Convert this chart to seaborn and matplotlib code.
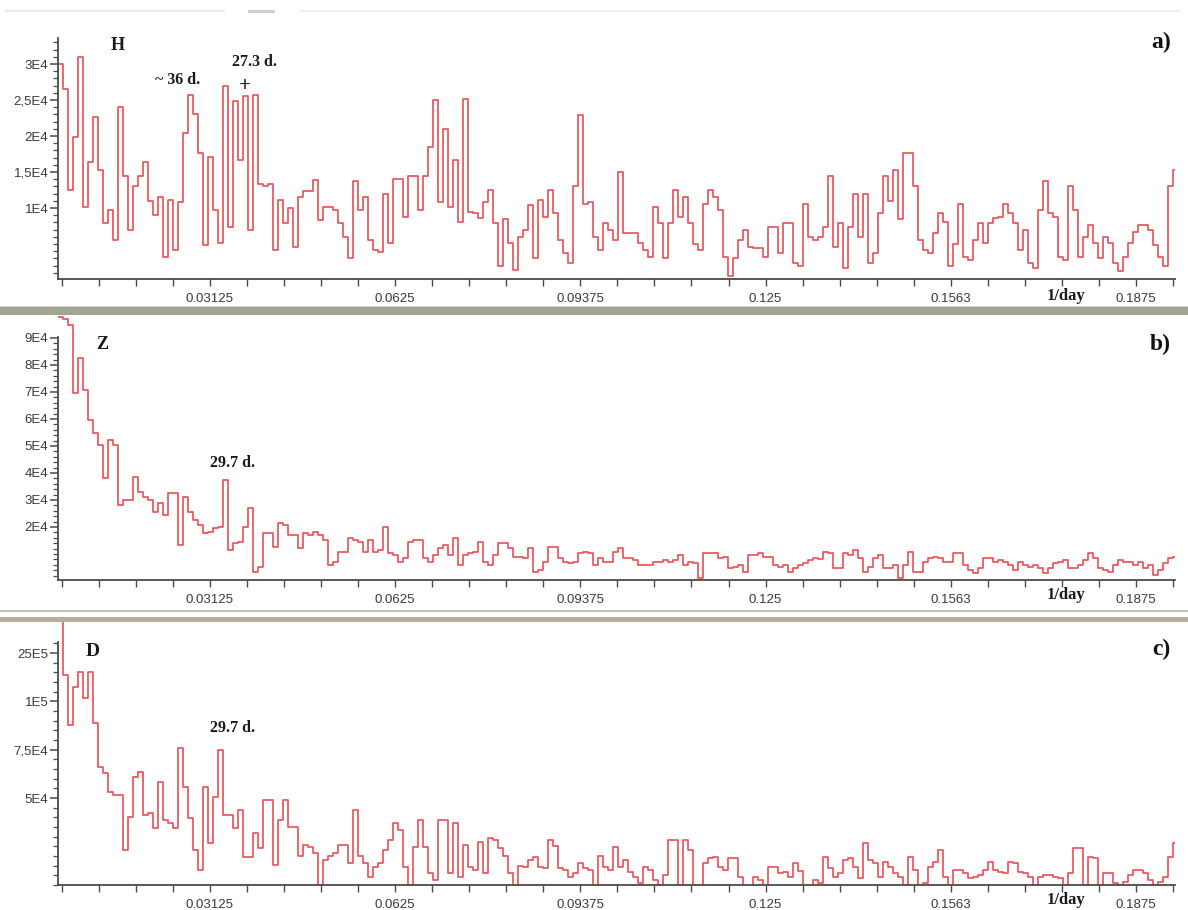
import numpy as np
import pandas as pd
import matplotlib
matplotlib.use("Agg")
import matplotlib.pyplot as plt
from matplotlib.patches import Rectangle
from matplotlib.ticker import FixedLocator
import matplotlib.transforms as mtransforms
import seaborn as sns

# ---------------- data ----------------
FREQ_START = 0.0056        # 1/day, first spectral bin
FREQ_STEP = 0.00084375     # 1/day, bin width

# spectral power, in units of 1E4
H_E4 = [3.0, 2.65, 1.25, 1.99, 3.1, 1.02, 1.64, 2.27, 1.53, 0.79,
        0.97, 0.56, 2.41, 1.44, 0.69, 1.30, 1.45, 1.64, 1.1, 0.9,
        1.16, 0.32, 1.11, 0.42, 1.09, 2.04, 2.57, 2.31, 1.76, 0.49,
        1.71, 0.97, 0.51, 2.69, 0.74, 2.48, 1.67, 2.55, 0.69, 2.57,
        1.34, 1.30, 1.34, 0.42, 1.11, 0.79, 1.00, 0.46, 1.16, 1.23,
        1.23, 1.39, 0.83, 1.02, 1.02, 0.97, 0.79, 0.6, 0.30, 1.37,
        0.97, 1.16, 0.56, 0.42, 0.39, 1.20, 0.51, 1.41,
        1.41, 0.88, 1.44, 1.44, 0.97, 1.44, 1.85, 2.5, 1.09, 2.1,
        1.02, 1.67, 0.81, 2.52, 0.95, 0.93, 0.86, 1.09, 1.25, 0.79,
        0.19, 0.85, 0.51, 0.14, 0.6, 0.69, 1.04, 0.30, 1.11, 0.88,
        1.25, 0.93, 0.56, 0.37, 0.23, 1.3, 2.29, 1.06, 1.09, 0.6,
        0.42, 0.79, 0.69, 0.56, 1.5, 0.65, 0.65, 0.65, 0.51, 0.42,
        0.32, 1.02, 0.79, 0.30, 0.79, 1.25, 0.88, 1.16, 0.79, 0.5,
        0.42, 1.06, 1.25, 1.16, 0.97, 0.32, 0.05, 0.3, 0.56, 0.69,
        0.46, 0.44, 0.44, 0.32, 0.74, 0.74, 0.37, 0.79,
        0.79, 0.23, 0.2, 1.06, 0.6, 0.56, 0.6, 0.74, 1.44, 0.46,
        0.79, 0.16, 0.74, 1.2, 0.6, 1.2, 0.23, 0.37, 0.93, 1.44,
        1.1, 1.53, 0.85, 1.76, 1.76, 1.3, 0.56, 0.42, 0.37, 0.65,
        0.93, 0.81, 0.19, 0.5, 1.06, 0.32, 0.28, 0.56, 0.79, 0.51,
        0.79, 0.86, 0.88, 1.06, 0.93, 0.79, 0.42, 0.69, 0.23, 0.16,
        0.97, 1.37, 0.93, 0.88, 0.32, 0.28, 1.3, 0.97, 0.32, 0.6,
        0.76, 0.51, 0.30, 0.6, 0.51, 0.23, 0.12, 0.32, 0.51, 0.67,
        0.76, 0.76, 0.69, 0.49, 0.32, 0.19, 1.3, 1.53]

Z_E4 = [9.79, 9.7, 9.48, 6.95, 8.25, 7.07, 5.96, 5.47, 5.04, 3.80,
        5.22, 5.04, 2.81, 3.0, 3.0, 3.86, 3.3, 3.12, 3.0, 2.57,
        2.88, 2.44, 3.25, 3.25, 1.33, 3.12, 2.57, 2.26, 2.07, 1.77,
        1.83, 1.95, 2.01, 3.74, 1.15, 1.40, 1.43, 2.01, 2.69, 0.35,
        0.5, 1.77, 1.77, 1.27, 2.14, 2.07, 1.70, 1.70, 1.21, 1.77,
        1.70, 1.83, 1.70, 1.52, 0.59, 0.72, 1.09, 1.09, 1.58, 1.52,
        1.46, 1.09, 1.52, 1.09, 1.15, 2.01, 1.02, 0.96,
        0.72, 0.84, 1.46, 1.52, 1.52, 0.84, 0.72, 0.96, 1.21, 1.33,
        0.96, 1.58, 0.59, 0.96, 1.02, 1.09, 1.43, 0.7, 0.59, 0.96,
        1.40, 1.40, 1.21, 0.90, 0.90, 0.84, 1.21, 0.35, 0.4, 0.72,
        1.27, 1.27, 0.84, 0.72, 0.65, 0.72, 1.02, 1.09, 1.02, 0.59,
        0.84, 0.72, 0.72, 1.09, 1.21, 0.84, 0.84, 0.78, 0.59, 0.59,
        0.59, 0.72, 0.72, 0.78, 0.72, 0.78, 0.96, 0.59, 0.72, 0.65,
        0.10, 1.02, 1.02, 1.02, 0.84, 0.90, 0.47, 0.53, 0.59, 0.35,
        0.96, 0.96, 1.02, 0.90, 0.90, 0.59, 0.53, 0.6,
        0.35, 0.47, 0.59, 0.65, 0.78, 0.84, 0.8, 1.09, 1.02, 0.47,
        0.47, 1.02, 0.96, 1.15, 0.84, 0.35, 0.5, 0.84, 0.96, 0.47,
        0.47, 0.59, 0.10, 0.6, 1.09, 0.35, 0.35, 0.72, 0.84, 0.90,
        0.84, 0.72, 0.72, 1.02, 1.02, 0.59, 0.41, 0.28, 0.47, 0.84,
        0.84, 0.72, 0.78, 0.72, 0.59, 0.41, 0.72, 0.59, 0.53, 0.59,
        0.47, 0.28, 0.47, 0.65, 0.72, 0.78, 0.47, 0.47, 0.59, 0.78,
        1.02, 0.84, 0.47, 0.41, 0.35, 0.59, 0.78, 0.72, 0.72, 0.59,
        0.72, 0.47, 0.59, 0.22, 0.41, 0.65, 0.84, 0.90]

D_E4 = [14.5, 11.37, 8.78, 10.76, 11.54, 10.16, 11.54, 8.86, 6.62, 6.28,
        5.33, 5.16, 5.16, 2.31, 4.03, 6.10, 6.36, 4.12, 4.21, 3.43,
        5.85, 3.86, 3.69, 3.43, 7.57, 5.59, 3.95, 2.31, 1.27, 5.59,
        2.65, 5.07, 7.48, 4.12, 4.12, 3.43, 4.38, 1.96, 1.96, 3.17,
        2.39, 4.90, 4.90, 1.53, 3.86, 4.90, 3.52, 3.52, 2.0, 2.57,
        2.48, 2.14, 0.50, 1.79, 2.0, 2.14, 2.57, 2.57, 1.62, 4.38,
        2.0, 1.62, 0.93, 1.45, 1.62, 2.3, 2.83, 3.69,
        3.34, 1.45, 0.50, 2.48, 3.86, 2.48, 1.10, 0.76, 3.86, 3.86,
        1.10, 3.69, 0.93, 2.57, 1.45, 1.27, 2.74, 1.10, 2.91, 2.83,
        2.39, 2.0, 1.10, 0.24, 1.5, 1.45, 1.79, 1.96, 1.45, 1.36,
        2.83, 2.5, 1.36, 1.27, 0.93, 1.10, 1.62, 1.36, 1.27, 0.41,
        2.0, 1.45, 1.27, 2.48, 1.45, 1.79, 1.19, 0.93, 0.58, 1.45,
        1.27, 0.76, 0.50, 1.0, 2.83, 2.83, 0.41, 2.83, 2.3, 0.50,
        0.41, 1.62, 1.88, 1.96, 1.45, 1.27, 1.88, 1.88, 0.93, 0.32,
        0.32, 0.93, 0.76, 0.41, 1.45, 1.45, 1.10, 1.19,
        0.93, 1.62, 1.2, 0.24, 0.15, 0.76, 0.58, 1.96, 1.36, 0.93,
        1.10, 1.79, 1.88, 1.45, 0.84, 2.65, 1.79, 1.62, 0.93, 1.70,
        1.45, 1.10, 0.93, 0.50, 1.96, 1.27, 0.41, 0.58, 1.45, 1.70,
        2.31, 0.93, 0.32, 1.27, 1.27, 1.10, 0.84, 0.93, 1.01, 1.27,
        1.70, 1.27, 1.19, 1.10, 1.70, 1.62, 1.19, 1.10, 0.93, 0.50,
        0.93, 1.01, 1.01, 0.93, 0.84, 0.50, 1.10, 2.39, 2.39, 0.41,
        1.96, 1.88, 0.32, 1.10, 1.10, 0.58, 0.50, 0.67, 1.01, 1.27,
        1.27, 1.10, 0.76, 0.50, 0.67, 0.93, 1.96, 2.65]

X_TICKS = [0.03125, 0.0625, 0.09375, 0.125, 0.15625, 0.1875]
X_TICK_LABELS = ["0.03125", "0.0625", "0.09375", "0.125", "0.1563", "0.1875"]
X_MINOR_STEP = 0.00625

H_YTICKS = [1e4, 1.5e4, 2e4, 2.5e4, 3e4]
H_YLABELS = ["1E4", "1,5E4", "2E4", "2,5E4", "3E4"]
Z_YTICKS = [2e4, 3e4, 4e4, 5e4, 6e4, 7e4, 8e4, 9e4]
Z_YLABELS = ["2E4", "3E4", "4E4", "5E4", "6E4", "7E4", "8E4", "9E4"]
D_YTICKS = [5e4, 7.5e4, 1e5, 1.25e5]
D_YLABELS = ["5E4", "7,5E4", "1E5", "25E5"]

# ---------------- style ----------------
sns.set_style("white")
plt.rcParams["font.family"] = ["Liberation Sans", "DejaVu Sans"]

LINE_COLOR = "#e8555b"
SPINE_COLOR = "#4a4a4a"
SERIF = ["Liberation Serif", "DejaVu Serif"]

W, Hpx = 1188, 910
fig = plt.figure(figsize=(W / 100, Hpx / 100), dpi=100)
fig.patch.set_facecolor("white")

XLIM = (0.005601, 0.19409)

panels = [
    dict(vals=H_E4, top=18, bottom=279, ylim=(0.014e4, 3.64e4), spine_top=3.36e4,
         yt=H_YTICKS, yl=H_YLABELS, minor=0.1e4, tag="a)", tag_y=0.908,
         comp=("H", 0.0157, 3.26e4, 13),
         notes=[("~ 36 d.", 0.02585, 2.78e4, 11.5), ("27.3 d.", 0.03884, 3.03e4, 11.5),
                ("+", 0.0372, 2.70e4, 15)],
         day_y=-0.065),
    dict(vals=Z_E4, top=315, bottom=580, ylim=(0.037e4, 9.85e4), spine_top=9.04e4,
         yt=Z_YTICKS, yl=Z_YLABELS, minor=0.2e4, tag="b)", tag_y=0.89,
         comp=("Z", 0.0130, 8.74e4, 13),
         notes=[("29.7 d.", 0.0350, 4.37e4, 11.5)],
         day_y=-0.057),
    dict(vals=D_E4, top=622, bottom=885, ylim=(0.497e4, 14.11e4), spine_top=13.07e4,
         yt=D_YTICKS, yl=D_YLABELS, minor=0.5e4, tag="c)", tag_y=0.894,
         comp=("D", 0.0115, 12.56e4, 14),
         notes=[("29.7 d.", 0.0350, 8.62e4, 11.5)],
         day_y=-0.057),
]

for p in panels:
    left, right = 58, 1175
    ax = fig.add_axes([left / W, 1 - p["bottom"] / Hpx, (right - left) / W,
                       (p["bottom"] - p["top"]) / Hpx])
    n = len(p["vals"])
    freq = FREQ_START + FREQ_STEP * np.arange(n + 1)
    power = np.array(p["vals"] + [p["vals"][-1]]) * 1e4
    df = pd.DataFrame({"freq": freq, "power": power})
    sns.lineplot(data=df, x="freq", y="power", ax=ax, estimator=None, sort=False,
                 drawstyle="steps-post", color=LINE_COLOR, linewidth=1.25)

    ax.set_xlim(*XLIM)
    ax.set_ylim(*p["ylim"])
    ax.set_xlabel("")
    ax.set_ylabel("")
    ax.set_facecolor("white")

    for s in ["top", "right"]:
        ax.spines[s].set_visible(False)
    for s in ["left", "bottom"]:
        ax.spines[s].set_color(SPINE_COLOR)
        ax.spines[s].set_linewidth(1.3)
    ax.spines["left"].set_bounds(p["ylim"][0], p["spine_top"])

    ax.xaxis.set_major_locator(FixedLocator(X_TICKS))
    ax.set_xticklabels(X_TICK_LABELS)
    ax.xaxis.set_minor_locator(FixedLocator(list(np.arange(1, 32) * X_MINOR_STEP)))
    ax.yaxis.set_major_locator(FixedLocator(p["yt"]))
    ax.set_yticklabels(p["yl"])
    ymin_minor = np.arange(1, 200) * p["minor"]
    ymin_minor = ymin_minor[(ymin_minor >= p["ylim"][0]) & (ymin_minor <= p["spine_top"])]
    ax.yaxis.set_minor_locator(FixedLocator(list(ymin_minor)))

    ax.tick_params(axis="x", which="both", direction="out", length=5, width=1,
                   color=SPINE_COLOR, labelsize=9.5, labelcolor="#3a3a3a", pad=5,
                   bottom=True)
    ax.tick_params(axis="y", which="major", direction="out", length=6, width=1.1,
                   color=SPINE_COLOR, labelsize=9.5, labelcolor="#3a3a3a", pad=1,
                   left=True)
    ax.tick_params(axis="y", which="minor", direction="out", length=3.5, width=0.9,
                   color=SPINE_COLOR, left=True)

    c_txt, c_x, c_y, c_fs = p["comp"]
    ax.text(c_x, c_y, c_txt, family=SERIF, fontweight="bold", fontsize=c_fs,
            ha="center", va="center", color="#1a1a1a")
    for txt, tx, ty, fs in p["notes"]:
        ax.text(tx, ty, txt, family=SERIF, fontweight="bold", fontsize=fs,
                ha="center", va="center", color="#1a1a1a")
    ax.text(0.9964, p["tag_y"], p["tag"], transform=ax.transAxes, family=SERIF,
            fontweight="bold", fontsize=17, ha="right", va="center", color="#111111")
    trans = mtransforms.blended_transform_factory(ax.transData, ax.transAxes)
    ax.text(0.1757, p["day_y"], "1/day", transform=trans, family=SERIF,
            fontweight="bold", fontsize=12, ha="center", va="center",
            color="#1a1a1a", clip_on=False)


def band(y0, y1, color, x0=0, x1=W):
    fig.add_artist(Rectangle((x0 / W, 1 - y1 / Hpx), (x1 - x0) / W, (y1 - y0) / Hpx,
                             transform=fig.transFigure, facecolor=color,
                             edgecolor="none", zorder=5))


# panel separators
band(305.5, 307, "#d2d2c8")
band(307, 315, "#a4a492")
band(609.5, 612, "#c2c2ba")
band(617, 622, "#b5ad9d")
# faint frame remnants at the top
band(10, 12, "#ebebe5", 5, 225)
band(10, 13, "#cfcfcf", 248, 275)
band(10, 12, "#efefea", 300, 1180)

fig.savefig("out.png", dpi=100, facecolor="white")
